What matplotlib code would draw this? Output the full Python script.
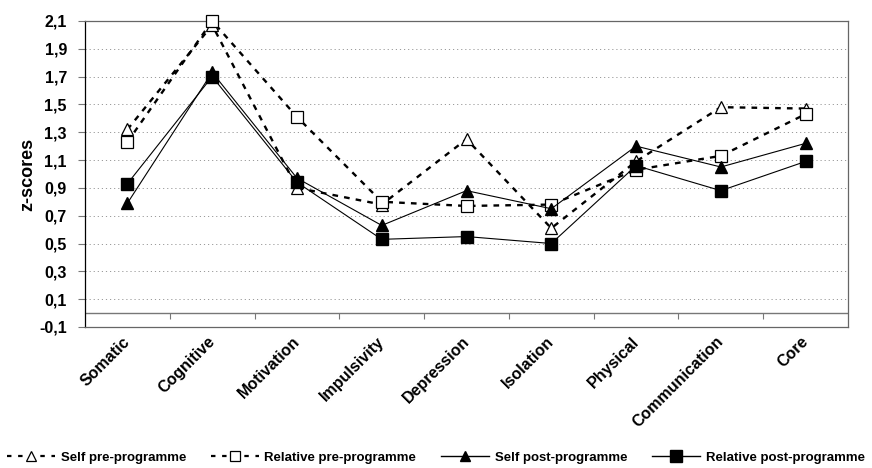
import matplotlib
matplotlib.use("Agg")
import matplotlib.pyplot as plt
import matplotlib.transforms as mtransforms
import numpy as np
from matplotlib.lines import Line2D

plt.rcParams['font.family'] = ['Liberation Sans', 'DejaVu Sans']

categories = ["Somatic", "Cognitive", "Motivation", "Impulsivity", "Depression",
              "Isolation", "Physical", "Communication", "Core"]
self_pre = [1.32, 2.07, 0.90, 0.78, 1.25, 0.61, 1.09, 1.48, 1.47]
relative_pre = [1.23, 2.10, 1.41, 0.80, 0.77, 0.78, 1.03, 1.13, 1.43]
self_post = [0.79, 1.73, 0.97, 0.63, 0.88, 0.75, 1.20, 1.05, 1.22]
relative_post = [0.93, 1.70, 0.94, 0.53, 0.55, 0.50, 1.06, 0.88, 1.09]
y_ticks = [-0.1, 0.1, 0.3, 0.5, 0.7, 0.9, 1.1, 1.3, 1.5, 1.7, 1.9, 2.1]

fig = plt.figure(figsize=(8.72, 4.68), dpi=100)
ax = fig.add_axes([0.0975, 0.3013, 0.875, 0.654])

x = np.arange(len(categories))
dash = (0, (2.4, 2.6))

ax.plot(x, self_pre, color='black', lw=1.7, linestyle=dash, marker='^',
        markersize=9, markerfacecolor='white', markeredgecolor='black',
        markeredgewidth=0.9, zorder=3, clip_on=False)
ax.plot(x, relative_pre, color='black', lw=1.7, linestyle=dash, marker='s',
        markersize=8.5, markerfacecolor='white', markeredgecolor='black',
        markeredgewidth=0.9, zorder=3, clip_on=False)
ax.plot(x, self_post, color='black', lw=0.8, linestyle='-', marker='^',
        markersize=8.5, markerfacecolor='black', markeredgecolor='black',
        zorder=4, clip_on=False)
ax.plot(x, relative_post, color='black', lw=0.8, linestyle='-', marker='s',
        markersize=8, markerfacecolor='black', markeredgecolor='black',
        zorder=4, clip_on=False)

ax.set_xlim(-0.5, len(categories) - 0.5)
ax.set_ylim(-0.1, 2.1)
ax.set_yticks(y_ticks)
ax.set_yticklabels([f"{v:.1f}".replace('.', ',') for v in y_ticks],
                   fontsize=11.5, fontweight='bold')
ax.yaxis.grid(True, color='#999999', linestyle=(0, (1.2, 3)), lw=0.7)
ax.set_axisbelow(True)

# category axis crossing at zero with small ticks between the groups
ax.axhline(0, color='#777777', lw=1.0, zorder=1)
between = x[:-1] + 0.5
ax.plot(between, np.zeros_like(between), linestyle='none', marker=3,
        markersize=4, color='#777777', markeredgewidth=0.8, zorder=1)

ax.set_xticks(x)
ax.set_xticklabels(categories, rotation=45, ha='right', rotation_mode='anchor',
                   fontsize=11.5, fontweight='bold')
ax.tick_params(axis='x', length=0, pad=5)
ax.tick_params(axis='y', length=5, color='#777777', width=0.8, pad=8)
shift = mtransforms.ScaledTranslation(-5 / 100, 0, fig.dpi_scale_trans)
for lbl in ax.get_xticklabels():
    lbl.set_transform(lbl.get_transform() + shift)

for side in ['top', 'right', 'bottom']:
    ax.spines[side].set_color('#666666')
    ax.spines[side].set_linewidth(0.9)
ax.spines['left'].set_color('black')
ax.spines['left'].set_linewidth(0.9)

ax.set_ylabel("z-scores", fontsize=13, fontweight='bold', labelpad=2)

handles = [
    Line2D([], [], color='black', lw=1.6, linestyle=(0, (2, 3)), marker='^',
           markersize=7, markerfacecolor='white', markeredgewidth=0.9),
    Line2D([], [], color='black', lw=1.6, linestyle=(0, (2, 3)), marker='s',
           markersize=7, markerfacecolor='white', markeredgewidth=0.9),
    Line2D([], [], color='black', lw=1.0, linestyle='-', marker='^',
           markersize=7, markerfacecolor='black'),
    Line2D([], [], color='black', lw=1.0, linestyle='-', marker='s',
           markersize=8, markerfacecolor='black'),
]
labels = ["Self pre-programme", "Relative pre-programme",
          "Self post-programme", "Relative post-programme"]
fig.legend(handles, labels, loc='center', bbox_to_anchor=(0.5, 0.022),
           ncol=4, frameon=False,
           prop={'weight': 'bold', 'size': 9.5},
           handlelength=3.6, handletextpad=0.45, columnspacing=1.9,
           borderaxespad=0, borderpad=0)

fig.savefig("out.png", dpi=100)
